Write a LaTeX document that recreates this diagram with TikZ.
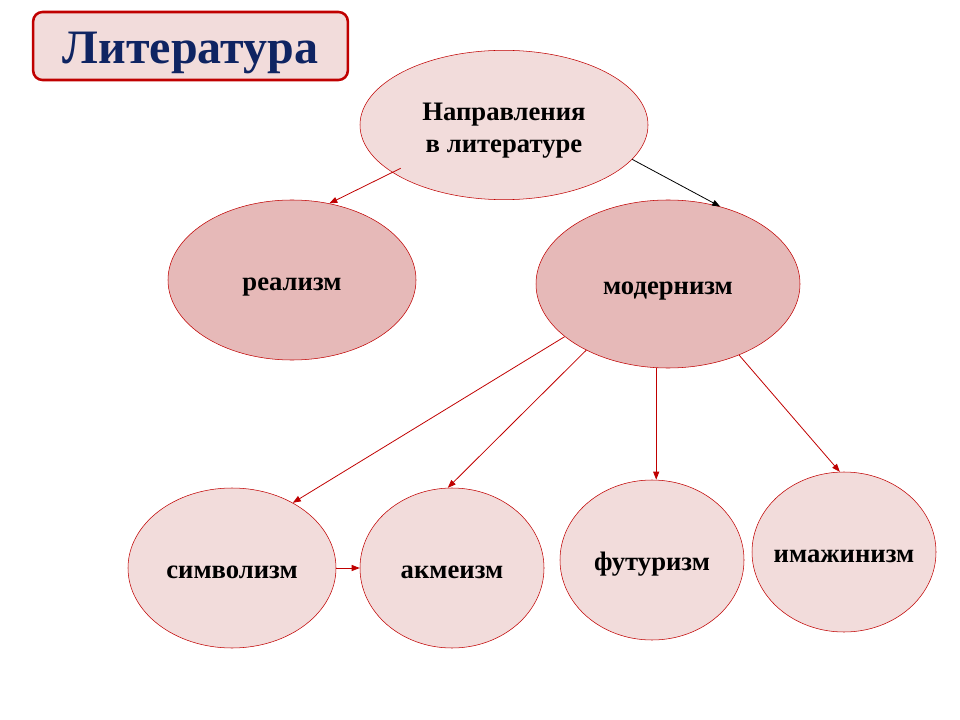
\documentclass[tikz,border=0pt]{standalone}
\usepackage{fontspec}
\setmainfont{Liberation Serif}
\usepackage{tikz}
\usepackage{xcolor}
\usetikzlibrary{shapes.geometric,arrows.meta}

\definecolor{rimred}{HTML}{C00000}
\definecolor{paleros}{HTML}{F2DCDB}
\definecolor{darkros}{HTML}{E6B9B8}
\definecolor{navy}{HTML}{0F2462}

\begin{document}
\begin{tikzpicture}[x=0.75pt, y=-0.75pt,
    every node/.style={ellipse, draw=rimred, fill=paleros, inner sep=0pt, align=center,
        text height=19pt, text depth=3.5pt,
        font=\fontsize{20pt}{24pt}\selectfont\bfseries},
    darkel/.style={fill=darkros},
    link/.style={draw=rimred, line width=0.6pt, -{Triangle[length=6pt,width=4.5pt]}, rimred}]
                \useasboundingbox (0,0) rectangle (960,720);
                \node[rectangle, rounded corners=7pt, line width=1.9pt, minimum width=236pt, minimum height=51pt,
                    text height=30pt, text depth=3pt,
                    text=navy, font=\fontsize{36pt}{40pt}\selectfont\bfseries] (T) at (190.5,46) {Литература};
                \node[minimum width=216pt, minimum height=112pt, text height=, text depth=]
                    (N) at (504,125) {\rule{0pt}{21pt}Направления\\в литературе};
                \node[darkel, minimum width=186pt, minimum height=120pt] (R) at (292,280) {реализм};
                \node[darkel, minimum width=198pt, minimum height=126pt] (M) at (668,284) {модернизм};
                \node[minimum width=156pt, minimum height=120pt] (S) at (232,568) {символизм};
                \node[minimum width=138pt, minimum height=120pt] (A) at (452,568) {акмеизм};
                \node[minimum width=138pt, minimum height=120pt] (F) at (652,560) {футуризм};
                \node[minimum width=138pt, minimum height=120pt] (I) at (844,552) {\makebox[0pt]{имажинизм}};

                \draw[link, shorten <=-7pt] (N.203) -- (R.64);
                \draw[link, draw=black, black] (N.-15) -- (M.56);
                \draw[link] (M.207) -- (S.47);
                \draw[link] (M.219) -- (A.93);
                \draw[link] (M.262) -- (M.262 |- F.north);
                \draw[link] (M.-45) -- (I.93);
                \draw[link] (S.east) -- (A.west);
            \end{tikzpicture}
\end{document}
